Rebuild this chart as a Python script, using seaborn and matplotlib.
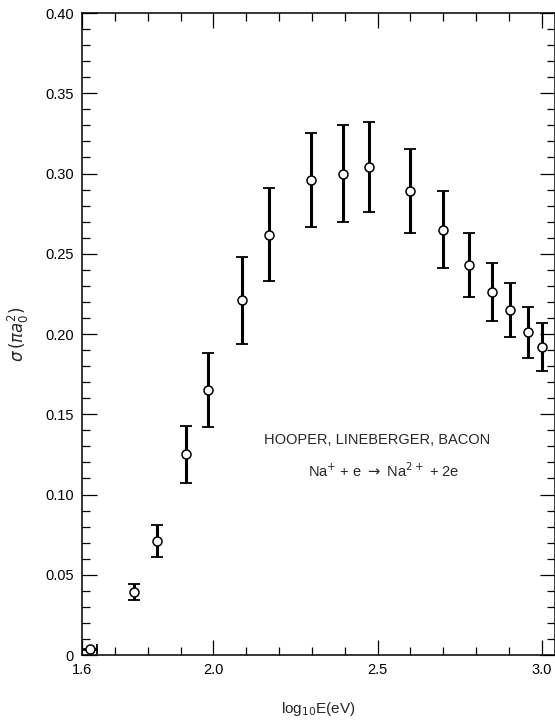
import matplotlib
matplotlib.use("Agg")
import matplotlib.pyplot as plt
from matplotlib.ticker import MultipleLocator, FixedLocator, FixedFormatter
import seaborn as sns
import pandas as pd

# Data
log_e = [1.623, 1.757, 1.827, 1.918, 1.985, 2.088, 2.168, 2.298, 2.395, 2.474,
         2.599, 2.699, 2.778, 2.847, 2.902, 2.957, 3.000]
sigma = [0.004, 0.039, 0.071, 0.125, 0.165, 0.221, 0.262, 0.296, 0.300, 0.304,
         0.289, 0.265, 0.243, 0.226, 0.215, 0.201, 0.192]
sigma_err = [0.000, 0.005, 0.010, 0.018, 0.023, 0.027, 0.029, 0.029, 0.030, 0.028,
             0.026, 0.024, 0.020, 0.018, 0.017, 0.016, 0.015]
x_err = [0.022] + [0.0] * 16

x_tick_vals = [1.6, 2.0, 2.5, 3.0]
x_tick_labels = ["1.6", "2.0", "2.5", "3.0"]
y_tick_vals = [0, 0.05, 0.10, 0.15, 0.20, 0.25, 0.30, 0.35, 0.40]
y_tick_labels = ["0", "0.05", "0.10", "0.15", "0.20", "0.25", "0.30", "0.35", "0.40"]

df = pd.DataFrame({"logE": log_e, "sigma": sigma})

sns.set_theme(style="ticks")
plt.rcParams["font.family"] = ["Liberation Sans", "DejaVu Sans"]
plt.rcParams["mathtext.fontset"] = "dejavusans"

fig = plt.figure(figsize=(5.55, 7.21), dpi=100)
ax = fig.add_axes([0.1477, 0.0915, 0.8523, 0.8904])

# error bars
ax.errorbar(log_e, sigma, yerr=sigma_err, fmt="none", ecolor="black",
            elinewidth=2.2, capsize=4.5, capthick=1.3, zorder=2)
ax.errorbar([log_e[0]], [sigma[0]], xerr=[x_err[0]], fmt="none", ecolor="black",
            elinewidth=2.0, capsize=3.5, capthick=1.3, zorder=2)

sns.scatterplot(data=df, x="logE", y="sigma", ax=ax, marker="o", s=42,
                facecolor="white", edgecolor="black", linewidth=1.1, zorder=3,
                legend=False, clip_on=False)

ax.set_xlim(1.6, 3.04)
ax.set_ylim(0, 0.40)

ax.xaxis.set_major_locator(FixedLocator(x_tick_vals))
ax.xaxis.set_major_formatter(FixedFormatter(x_tick_labels))
ax.xaxis.set_minor_locator(MultipleLocator(0.1))
ax.yaxis.set_major_locator(FixedLocator(y_tick_vals))
ax.yaxis.set_major_formatter(FixedFormatter(y_tick_labels))
ax.yaxis.set_minor_locator(MultipleLocator(0.01))

ax.tick_params(which="both", direction="in", top=True, right=True,
               colors="black", labelsize=10.5, width=0.9)
ax.tick_params(which="major", length=11, pad=6)
ax.tick_params(which="minor", length=6)

for side in ["left", "bottom", "top", "right"]:
    ax.spines[side].set_visible(True)
    ax.spines[side].set_color("black")
    ax.spines[side].set_linewidth(1.1)

ax.set_xlabel(r"log$_{10}$E(eV)", fontsize=11, labelpad=16)
ax.set_ylabel(r"$\sigma\,(\pi a_0^2)$", fontsize=12, labelpad=10)

ax.text(2.5, 0.134, "HOOPER, LINEBERGER, BACON", fontsize=10.5,
        ha="center", va="center")
ax.text(2.52, 0.115, r"Na$^{+}$ + e $\rightarrow$ Na$^{2+}$ + 2e", fontsize=10.5,
        ha="center", va="center")

fig.savefig("out.png", dpi=100, facecolor="white")
